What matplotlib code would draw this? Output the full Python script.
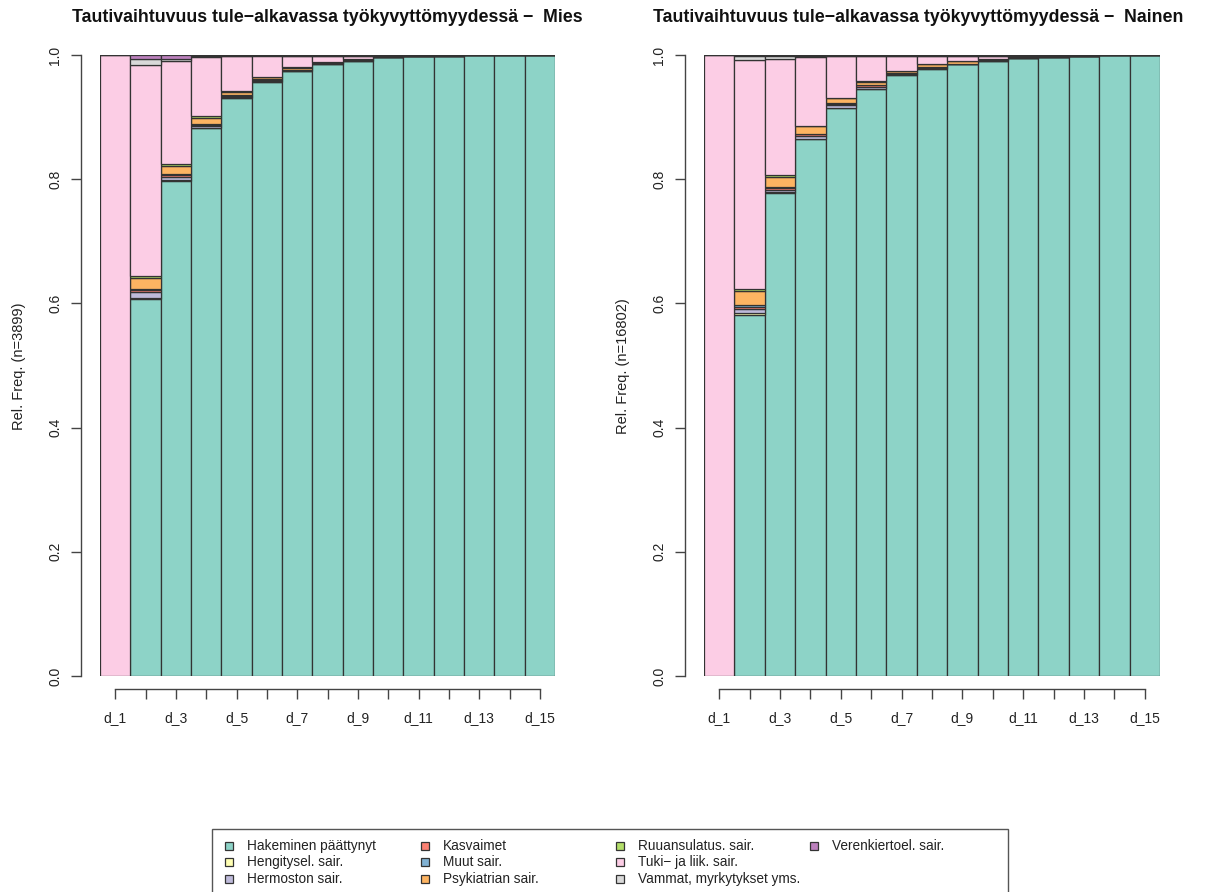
import numpy as np
import matplotlib
matplotlib.use("Agg")
import matplotlib.pyplot as plt
from matplotlib.patches import Rectangle

plt.rcParams['font.family'] = ['Liberation Sans', 'DejaVu Sans']

# states, bottom to top of each stack
states = ["Hakeminen päättynyt", "Hengitysel. sair.", "Hermoston sair.", "Kasvaimet",
          "Muut sair.", "Psykiatrian sair.", "Ruuansulatus. sair.", "Tuki\u2212 ja liik. sair.",
          "Vammat, myrkytykset yms.", "Verenkiertoel. sair."]
colors = ["#8DD3C7", "#FFFFB3", "#BEBADA", "#FB8072", "#80B1D3",
          "#FDB462", "#B3DE69", "#FCCDE5", "#D9D9D9", "#BC80BD"]
positions = ["d_%d" % i for i in range(1, 16)]

# relative frequencies per state (rows) and position d_1..d_15 (columns)
mies_freq = [
    [0, 0.607, 0.797, 0.882, 0.930, 0.957, 0.975, 0.985, 0.991, 0.996, 0.998, 0.999, 0.9995, 1.0, 1.0],
    [0, 0.002, 0.002, 0.001, 0.001, 0, 0, 0, 0, 0, 0, 0, 0, 0, 0],
    [0, 0.009, 0.004, 0.002, 0.001, 0.001, 0, 0.001, 0, 0, 0, 0, 0, 0, 0],
    [0, 0.003, 0.004, 0.003, 0.002, 0.002, 0.001, 0.001, 0.001, 0, 0, 0, 0, 0, 0],
    [0, 0.002, 0.002, 0.001, 0.001, 0.001, 0, 0, 0, 0, 0, 0, 0, 0, 0],
    [0, 0.018, 0.012, 0.010, 0.006, 0.003, 0.003, 0.002, 0.001, 0, 0, 0, 0, 0, 0],
    [0, 0.003, 0.004, 0.002, 0.001, 0.001, 0.001, 0, 0, 0, 0, 0, 0, 0, 0],
    [1.0, 0.340, 0.165, 0.095, 0.056, 0.034, 0.018, 0.010, 0.006, 0.003, 0.001, 0.001, 0, 0, 0],
    [0, 0.010, 0.004, 0.002, 0.001, 0.0005, 0.001, 0, 0, 0, 0, 0, 0, 0, 0],
    [0, 0.006, 0.006, 0.002, 0.001, 0.0005, 0.001, 0.001, 0.001, 0.001, 0.001, 0, 0.0005, 0, 0],
]
nainen_freq = [
    [0, 0.582, 0.778, 0.864, 0.914, 0.946, 0.967, 0.977, 0.985, 0.991, 0.995, 0.997, 0.999, 1.0, 1.0],
    [0, 0.002, 0.001, 0.001, 0, 0, 0, 0, 0, 0, 0, 0, 0, 0, 0],
    [0, 0.007, 0.004, 0.004, 0.005, 0.003, 0.002, 0.002, 0, 0, 0, 0, 0, 0, 0],
    [0, 0.004, 0.003, 0.003, 0.002, 0.002, 0.002, 0.002, 0.001, 0.001, 0, 0, 0, 0, 0],
    [0, 0.003, 0.002, 0.001, 0.002, 0.001, 0, 0, 0, 0, 0, 0, 0, 0, 0],
    [0, 0.022, 0.016, 0.012, 0.007, 0.005, 0.003, 0.004, 0.004, 0.002, 0.001, 0, 0, 0, 0],
    [0, 0.003, 0.002, 0.001, 0.001, 0.001, 0, 0, 0, 0, 0, 0, 0, 0, 0],
    [1.0, 0.369, 0.188, 0.111, 0.067, 0.040, 0.024, 0.013, 0.009, 0.005, 0.003, 0.002, 0, 0, 0],
    [0, 0.007, 0.004, 0.002, 0.001, 0.001, 0.001, 0, 0, 0, 0, 0, 0, 0, 0],
    [0, 0.001, 0.002, 0.001, 0.001, 0.001, 0.001, 0.002, 0.001, 0.001, 0.001, 0.001, 0.001, 0, 0],
]

groups = ["Mies", "Nainen"]
group_n = [3899, 16802]

W, H = 1213, 892
fig = plt.figure(figsize=(W / 100, H / 100), dpi=100)

ax_left_px = [100, 704]
ax_w_px = [455, 456]
title_cx_px = [327, 918]
ylab_px = [19, 623]
grey = "#444444"

for k, freq in enumerate([mies_freq, nainen_freq]):
    ax = fig.add_axes([ax_left_px[k] / W, 1 - 676 / H, ax_w_px[k] / W, 621 / H])
    x = np.arange(len(positions))
    bottom = np.zeros(len(positions))
    for i, st in enumerate(states):
        vals = np.array(freq[i], dtype=float)
        ax.bar(x, vals, width=1.0, bottom=bottom, align='edge', color=colors[i],
               edgecolor="#333333", linewidth=0.9)
        bottom += vals
    ax.set_xlim(0, len(positions))
    ax.set_ylim(0, 1)
    for s in ["top", "right"]:
        ax.spines[s].set_visible(False)
    ax.spines["left"].set_position(("outward", 14))
    ax.spines["bottom"].set_position(("outward", 9))
    ax.spines["left"].set_bounds(0, 1)
    ax.spines["bottom"].set_bounds(0.5, len(positions) - 0.5)
    for s in ["left", "bottom"]:
        ax.spines[s].set_color(grey)
        ax.spines[s].set_linewidth(1.0)
    ax.set_xticks(x + 0.5)
    ax.set_xticklabels([p if j % 2 == 0 else "" for j, p in enumerate(positions)])
    yt = np.arange(0, 1.01, 0.2)
    ax.set_yticks(yt)
    ax.set_yticklabels(["%.1f" % v for v in yt], rotation=90, va='center')
    ax.tick_params(axis='both', length=7, width=1.0, color=grey, labelsize=10,
                   labelcolor="#222222")
    ax.tick_params(axis='x', pad=9)
    ax.tick_params(axis='y', pad=6)

    fig.text(title_cx_px[k] / W, 1 - 18 / H,
             "Tautivaihtuvuus tule\u2212alkavassa työkyvyttömyydessä \u2212  " + groups[k],
             ha='center', va='center', fontsize=12.8, fontweight='bold', color="#111111")
    fig.text(ylab_px[k] / W, 1 - 366 / H, "Rel. Freq. (n=%d)" % group_n[k],
             rotation=90, ha='center', va='center', fontsize=10.5, color="#222222")

# legend box at the bottom, 4 columns of 3 rows (filled column-wise)
fig.patches.append(Rectangle((212 / W, 1 - 900 / H), 796 / W, 71 / H,
                             transform=fig.transFigure, facecolor='none',
                             edgecolor="#555555", linewidth=1.0))
col_x = [229, 425, 620, 814]
row_y = [846, 862, 879]
sq = 8
for i, st in enumerate(states):
    c, r = divmod(i, 3)
    fig.patches.append(Rectangle(((col_x[c] - sq / 2) / W, 1 - (row_y[r] + sq / 2) / H),
                                 sq / W, sq / H, transform=fig.transFigure,
                                 facecolor=colors[i], edgecolor="#333333", linewidth=0.9))
    fig.text((col_x[c] + 18) / W, 1 - row_y[r] / H, st, ha='left', va='center',
             fontsize=9.8, color="#222222")

fig.savefig("out.png", dpi=100)
